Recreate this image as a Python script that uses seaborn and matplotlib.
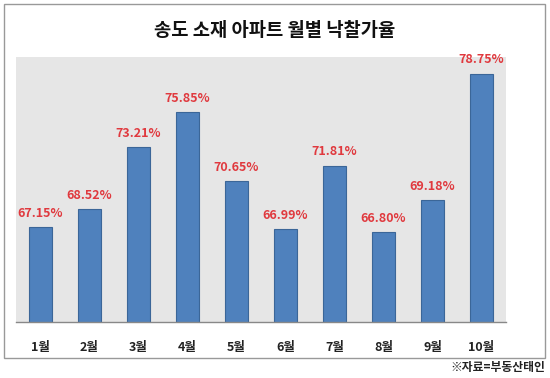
import matplotlib
matplotlib.use("Agg")
import matplotlib.pyplot as plt
import seaborn as sns
import pandas as pd
from matplotlib.patches import Rectangle

months = ['1월', '2월', '3월', '4월', '5월', '6월', '7월', '8월', '9월', '10월']
rates = [67.15, 68.52, 73.21, 75.85, 70.65, 66.99, 71.81, 66.80, 69.18, 78.75]
title = '송도 소재 아파트 월별 낙찰가율'
source = '※자료=부동산태인'

df = pd.DataFrame({'month': months, 'rate': rates})

sns.set_style('white')
plt.rcParams['font.family'] = ['Noto Sans CJK KR', 'DejaVu Sans']

fig = plt.figure(figsize=(5.5, 3.78), dpi=100)
ax = fig.add_axes([16/550, 1 - 322/378, 490/550, 265/378])

sns.barplot(data=df, x='month', y='rate', color='#4F81BD', width=0.45,
            edgecolor='#3B6698', linewidth=0.8, saturation=1, ax=ax)

ax.set_ylim(60, 80)
ax.set_xlim(-0.5, 9.5)
ax.set_facecolor('#e6e6e6')
ax.set_xlabel('')
ax.set_ylabel('')
ax.set_yticks([])
ax.tick_params(axis='x', length=0, pad=14)
for lab in ax.get_xticklabels():
    lab.set_fontweight('bold')
    lab.set_fontsize(9)
    lab.set_color('#222222')
for s in ['top', 'left', 'right']:
    ax.spines[s].set_visible(False)
ax.spines['bottom'].set_color('#888888')
ax.spines['bottom'].set_linewidth(1)

for i, v in enumerate(rates):
    ax.text(i, v + 0.55, f'{v:.2f}%', ha='center', va='bottom',
            color='#E0393E', fontsize=9, fontweight='bold')

fig.text(0.5, 1 - 30/378, title, ha='center', va='center',
         fontsize=13.5, fontweight='bold', color='#111111')
fig.text(545/550, 1 - 368/378, source, ha='right', va='center',
         fontsize=8.5, fontweight='bold', color='#222222')

frame = Rectangle((4/550, 1 - 358/378), 541/550, 354/378, transform=fig.transFigure,
                  fill=False, edgecolor='#999999', linewidth=1)
fig.patches.append(frame)

fig.savefig('out.png', dpi=100)
